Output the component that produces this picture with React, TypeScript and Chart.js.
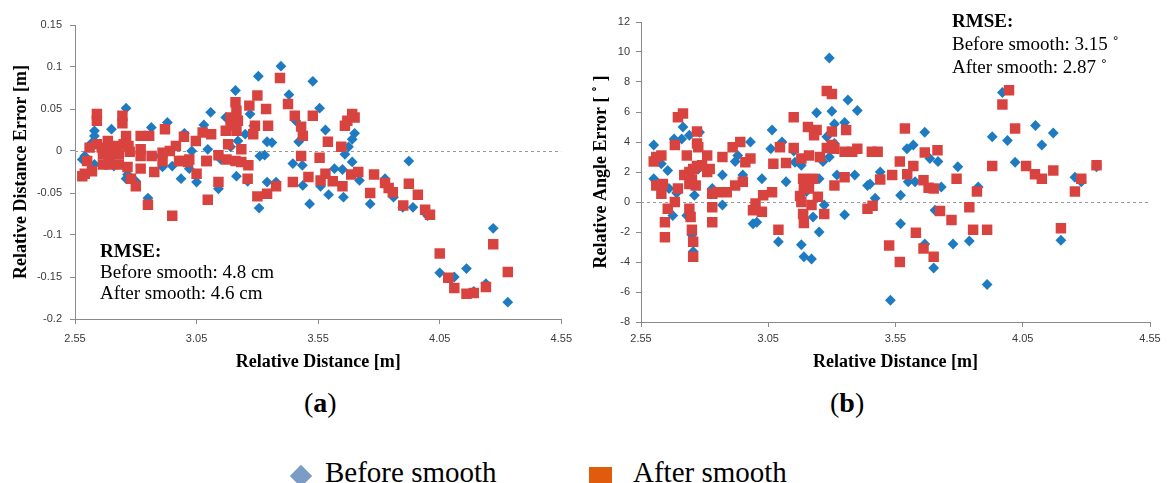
import React, { useEffect, useRef } from 'react';
import { Chart, registerables } from 'chart.js';

Chart.register(...registerables);

type Pt = [number, number];

// ---------- shared axis ----------
const distanceTicks = [2.55, 3.05, 3.55, 4.05, 4.55];

// ---------- panel (a): relative distance error [m] ----------
const distErrTicks = [-0.2, -0.15, -0.1, -0.05, 0, 0.05, 0.1, 0.15];

const distBefore: Pt[] = [
  [3.397, 0.101], [3.304, 0.089], [3.21, 0.072], [3.43, 0.067], [3.108, 0.046], [2.76, 0.051],
  [2.70, 0.026], [2.864, 0.028], [2.93, 0.034], [3.0, 0.021], [3.08, 0.031], [2.63, 0.024],
  [2.63, 0.018], [2.59, -0.006], [2.63, -0.016], [2.71, -0.018], [2.766, -0.028], [2.76, -0.033],
  [2.80, -0.036], [2.876, -0.006], [2.91, -0.019], [2.95, -0.018], [2.986, -0.033], [3.02, -0.021],
  [3.05, -0.037], [3.096, 0.002], [3.14, -0.045], [2.85, -0.056], [3.214, -0.03], [3.26, -0.036],
  [3.307, -0.068], [3.34, -0.037], [3.377, -0.037], [3.17, 0.040], [3.27, 0.044], [3.22, 0.012],
  [3.34, 0.011], [3.31, -0.006], [3.446, -0.015], [3.485, -0.017], [3.487, -0.041], [3.528, 0.083],
  [3.556, 0.051], [3.458, 0.036], [3.58, 0.025], [3.70, 0.021], [3.69, 0.014], [3.675, 0.005],
  [3.66, -0.004], [3.515, -0.063], [3.56, -0.042], [3.593, -0.052], [3.617, -0.021], [3.65, -0.022],
  [3.69, -0.013], [3.72, -0.035], [3.654, -0.055], [3.764, -0.063], [3.825, -0.033], [3.86, -0.055],
  [3.898, -0.067], [3.923, -0.012], [3.94, -0.067], [4.0, -0.077], [4.27, -0.092], [4.05, -0.145],
  [4.11, -0.15], [4.16, -0.14], [4.19, -0.167], [4.24, -0.158], [4.33, -0.18], [3.47, 0.011],
  [3.19, 0.005], [3.33, -0.005], [3.36, 0.01], [2.66, 0.0], [2.72, 0.005], [3.03, 0.0],
  [3.15, -0.01], [3.25, 0.02], [3.285, 0.03], [2.58, -0.01], [2.62, 0.01], [2.69, -0.01],
];

const distAfter: Pt[] = [
  [3.393, 0.087], [3.30, 0.066], [3.267, 0.054], [3.336, 0.05], [3.21, 0.058], [3.214, 0.048],
  [3.19, 0.04], [3.22, 0.036], [3.19, 0.03], [3.214, 0.024], [3.29, 0.03], [3.344, 0.03],
  [3.17, 0.024], [3.283, 0.02], [3.18, 0.008], [3.234, 0.002], [3.14, -0.005], [3.173, -0.01],
  [3.21, -0.012], [3.234, -0.013], [3.263, -0.017], [3.09, -0.012], [3.02, -0.01], [3.05, -0.027],
  [3.14, -0.037], [3.26, -0.033], [3.096, -0.058], [3.30, -0.054], [3.34, -0.051], [3.377, -0.042],
  [3.446, -0.037], [3.426, 0.056], [3.454, 0.042], [3.48, 0.029], [3.487, 0.018], [3.48, -0.006],
  [3.51, -0.031], [3.528, 0.042], [3.59, 0.011], [3.556, -0.008], [3.56, -0.035], [3.58, -0.027],
  [3.61, -0.036], [3.65, -0.042], [3.645, 0.005], [3.66, 0.03], [3.67, 0.036], [3.69, 0.044],
  [3.70, 0.04], [3.686, -0.028], [3.715, -0.025], [3.764, -0.05], [3.78, -0.028], [3.825, -0.038],
  [3.84, -0.044], [3.857, -0.049], [3.90, -0.065], [3.923, -0.039], [3.96, -0.052], [3.99, -0.07],
  [4.01, -0.076], [4.05, -0.122], [4.085, -0.151], [4.11, -0.163], [4.16, -0.17], [4.19, -0.169],
  [4.24, -0.162], [4.27, -0.111], [4.33, -0.144], [2.64, 0.044], [2.64, 0.036], [2.745, 0.042],
  [2.745, 0.033], [2.76, 0.018], [2.685, 0.012], [2.64, 0.008], [2.72, 0.006], [2.75, 0.008],
  [2.77, 0.006], [2.82, 0.018], [2.855, 0.018], [2.92, 0.026], [2.82, 0.002], [2.82, -0.006],
  [2.665, -0.004], [2.69, -0.006], [2.73, -0.004], [2.775, -0.001], [2.60, -0.012], [2.62, -0.024],
  [2.59, -0.027], [2.665, -0.016], [2.69, -0.016], [2.73, -0.016], [2.766, -0.019], [2.78, -0.033],
  [2.80, -0.042], [2.82, -0.021], [2.876, -0.025], [2.91, -0.002], [2.94, 0.0], [2.91, -0.012],
  [2.965, 0.006], [2.998, 0.017], [2.99, -0.012], [3.015, -0.013], [3.047, 0.012], [2.85, -0.064],
  [2.95, -0.077], [2.58, -0.03], [3.075, 0.022], [3.11, 0.02], [3.092, -0.012], [2.66, 0.004],
  [2.70, 0.0], [2.61, 0.004], [2.978, -0.012], [2.865, -0.006],
];

// ---------- panel (b): relative angle error [deg] ----------
const angleErrTicks = [-8, -6, -4, -2, 0, 2, 4, 6, 8, 10, 12];

const angleBefore: Pt[] = [
  [2.60, 3.8], [2.60, 1.55], [2.63, 2.55], [2.655, 2.1], [2.66, 0.9], [2.675, -0.9],
  [2.68, 4.2], [2.71, 4.2], [2.715, 5.0], [2.74, 4.45], [2.73, -0.9], [2.75, -2.2],
  [2.755, -3.3], [2.76, 0.45], [2.775, 2.2], [2.78, 4.65], [2.83, 0.9], [2.87, -0.2],
  [2.87, 1.8], [2.92, 2.7], [2.93, 3.1], [2.95, 1.8], [2.98, 4.0], [2.99, -1.45],
  [3.005, -1.35], [3.025, 1.55], [3.065, 4.8], [3.06, 3.55], [3.09, -2.65], [3.104, 4.0],
  [3.12, 1.35], [3.155, 2.65], [3.18, 2.45], [3.18, -2.85], [3.19, -3.65], [3.22, -3.8],
  [3.226, -1.0], [3.25, -2.0], [3.24, 5.95], [3.29, 9.6], [3.30, 6.05], [3.31, 5.2],
  [3.28, 4.35], [3.265, 2.7], [3.31, 3.9], [3.32, 1.8], [3.35, -0.85], [3.363, 6.8],
  [3.35, 5.3], [3.39, 1.8], [3.40, 6.1], [3.44, 1.1], [3.45, 1.2], [3.47, 0.25],
  [3.49, 2.0], [3.53, -6.55], [3.57, 0.45], [3.57, -1.45], [3.595, 3.55], [3.62, 3.8],
  [3.665, 4.65], [3.60, 1.35], [3.627, 1.35], [3.685, 2.9], [3.717, 2.7], [3.73, 1.0],
  [3.705, -0.55], [3.665, -2.8], [3.70, -4.4], [3.776, -2.8], [3.795, 2.35], [3.84, -2.6],
  [3.875, 1.0], [3.91, -5.5], [3.93, 4.35], [3.97, 7.3], [3.99, 4.1], [4.02, 2.65],
  [4.10, 5.1], [4.125, 3.8], [4.17, 4.6], [4.20, -2.55], [4.255, 1.65], [4.28, 1.35],
  [4.34, 2.35], [3.25, 1.55], [3.27, -0.2], [2.64, 1.0], [2.69, 0.6], [3.2, 0.7],
  [3.15, 3.4], [3.29, 3.0],
];

const angleAfter: Pt[] = [
  [2.61, 3.0], [2.60, 2.7], [2.63, 3.1], [2.61, 1.1], [2.636, 1.2], [2.63, 0.55],
  [2.644, -1.35], [2.644, -2.35], [2.655, -0.45], [2.683, 0.0], [2.683, 3.8], [2.695, 0.9],
  [2.695, 5.65], [2.715, 5.9], [2.73, 3.1], [2.72, 1.8], [2.74, 2.0], [2.75, 1.5],
  [2.74, 1.2], [2.765, 1.1], [2.77, 2.4], [2.755, 2.2], [2.74, -0.45], [2.745, -1.0],
  [2.75, -1.85], [2.755, -2.65], [2.755, -3.65], [2.77, 4.7], [2.77, 3.9], [2.775, 3.65],
  [2.79, 2.45], [2.81, 3.1], [2.82, 2.2], [2.81, 2.0], [2.83, 0.55], [2.83, -0.35],
  [2.83, -1.35], [2.85, 0.65], [2.87, 3.0], [2.887, 0.65], [2.91, 3.65], [2.92, 1.1],
  [2.94, 4.0], [2.95, 1.35], [2.96, 2.65], [2.98, 2.9], [3.0, -0.1], [2.99, -0.55],
  [3.025, -0.65], [3.03, 0.45], [3.065, 0.65], [3.07, 2.55], [3.09, -1.85], [3.096, 3.65],
  [3.12, 2.6], [3.15, 5.65], [3.15, 3.6], [3.175, 0.4], [3.18, 0.0], [3.187, -0.8],
  [3.19, -1.4], [3.18, 2.9], [3.187, 1.55], [3.206, 5.0], [3.24, 4.8], [3.23, 4.45],
  [3.21, 3.1], [3.253, 3.0], [3.22, -0.2], [3.245, 0.35], [3.27, -0.8], [3.28, 7.4],
  [3.30, 7.2], [3.30, 4.7], [3.28, 3.6], [3.30, 3.8], [3.31, 3.55], [3.31, 1.1],
  [3.35, 1.65], [3.356, 4.8], [3.35, 3.35], [3.38, 3.35], [3.40, 3.55], [3.44, -0.45],
  [3.46, -0.25], [3.457, 3.35], [3.48, 3.35], [3.49, 1.5], [3.226, 1.55], [3.19, 1.0],
  [3.21, 0.9], [3.537, 1.8], [3.567, 2.7], [3.587, 4.9], [3.596, 1.85], [3.62, 2.4],
  [3.665, 3.3], [3.66, 1.45], [3.68, 0.95], [3.70, 0.9], [3.715, 3.45], [3.725, -0.6],
  [3.77, -1.2], [3.79, 1.55], [3.84, -0.35], [3.855, -1.85], [3.87, 0.7], [3.91, -1.85],
  [3.93, 2.4], [3.97, 6.5], [3.996, 7.45], [4.02, 4.9], [4.063, 2.4], [4.098, 1.85],
  [4.125, 1.55], [4.17, 2.1], [4.20, -1.75], [4.255, 0.7], [4.28, 1.55], [4.34, 2.45],
  [3.525, -2.9], [3.567, -4.0], [3.63, -2.05], [3.66, -3.1], [3.70, -3.65],
];

// ---------- styling ----------
const BLUE = '#1F7BC1';
const RED = '#D9433F';
const LEGEND_BLUE = '#7B9CC4';
const LEGEND_ORANGE = '#E15B0C';
const AXIS = '#8A8A8A';
const TICK = '#3A3A3A';
const SERIF = '"Liberation Serif", "Times New Roman", serif';
const SANS = '"Liberation Sans", Arial, sans-serif';

const zeroLine = {
  id: 'zeroLine',
  beforeDatasetsDraw(chart: any) {
    const { ctx, chartArea, scales } = chart;
    const y = Math.round(scales.y.getPixelForValue(0)) + 0.5;
    ctx.save();
    ctx.strokeStyle = '#9A9A9A';
    ctx.lineWidth = 1;
    ctx.setLineDash([3, 3]);
    ctx.beginPath();
    ctx.moveTo(chartArea.left, y);
    ctx.lineTo(chartArea.right, y);
    ctx.stroke();
    ctx.restore();
  },
};

type PanelProps = {
  left: number;
  width: number;
  height: number;
  padding: { top: number; right: number; bottom: number; left: number };
  yWidth: number;
  xHeight: number;
  yTickPad: number;
  xTickPad: number;
  yTitle: string;
  yTicks: number[];
  before: Pt[];
  after: Pt[];
};

function Panel(p: PanelProps) {
  const ref = useRef<HTMLCanvasElement>(null);
  useEffect(() => {
    const titleFont = { family: SERIF, size: 18, weight: 'bold' as const };
    const tickFont = { family: SANS, size: 11 };
    const chart = new Chart(ref.current as HTMLCanvasElement, {
      type: 'scatter',
      data: {
        datasets: [
          {
            label: 'Before smooth',
            data: p.before.map(([x, y]) => ({ x, y })),
            pointStyle: 'rectRot',
            pointRadius: 5.4,
            backgroundColor: BLUE,
            borderWidth: 0,
            order: 1,
          },
          {
            label: 'After smooth',
            data: p.after.map(([x, y]) => ({ x, y })),
            pointStyle: 'rect',
            pointRadius: 7.4,
            backgroundColor: RED,
            borderWidth: 0,
            order: 0,
          },
        ],
      },
      options: {
        responsive: false,
        animation: false,
        events: [],
        layout: { padding: p.padding },
        plugins: { legend: { display: false }, tooltip: { enabled: false } },
        scales: {
          x: {
            type: 'linear',
            min: distanceTicks[0],
            max: distanceTicks[distanceTicks.length - 1],
            afterBuildTicks: (s: any) => {
              s.ticks = distanceTicks.map((v) => ({ value: v }));
            },
            afterFit: (s: any) => {
              s.height = p.xHeight;
            },
            grid: { display: true, drawOnChartArea: false, drawTicks: true, tickLength: 5, color: AXIS },
            border: { display: true, color: AXIS, width: 1 },
            ticks: {
              autoSkip: false,
              maxRotation: 0,
              padding: p.xTickPad,
              color: TICK,
              font: tickFont,
              callback: (v: any) => Number(v).toFixed(2),
            },
            title: {
              display: true,
              text: 'Relative Distance [m]',
              color: '#000',
              font: titleFont,
              padding: { top: 0, bottom: 7 },
            },
          },
          y: {
            type: 'linear',
            min: p.yTicks[0],
            max: p.yTicks[p.yTicks.length - 1],
            afterBuildTicks: (s: any) => {
              s.ticks = p.yTicks.map((v) => ({ value: v }));
            },
            afterFit: (s: any) => {
              s.width = p.yWidth;
            },
            grid: { display: true, drawOnChartArea: false, drawTicks: true, tickLength: 5, color: AXIS },
            border: { display: true, color: AXIS, width: 1 },
            ticks: {
              autoSkip: false,
              padding: p.yTickPad,
              color: TICK,
              font: tickFont,
              callback: (v: any) => String(parseFloat(Number(v).toFixed(2))),
            },
            title: {
              display: true,
              text: p.yTitle,
              color: '#000',
              font: titleFont,
              padding: { top: 11, bottom: 0 },
            },
          },
        },
      },
      plugins: [zeroLine],
    } as any);
    return () => chart.destroy();
  }, []);
  return (
    <canvas
      ref={ref}
      width={p.width}
      height={p.height}
      style={{ position: 'absolute', left: p.left, top: 0, width: p.width, height: p.height }}
    />
  );
}

const textStyle: React.CSSProperties = {
  position: 'absolute',
  fontFamily: SERIF,
  color: '#000',
  whiteSpace: 'nowrap',
};

export default function App() {
  return (
    <div
      style={{
        position: 'absolute',
        left: 0,
        top: 0,
        width: 1169,
        height: 483,
        overflow: 'hidden',
        background: '#fff',
      }}
    >
      <Panel
        left={0}
        width={580}
        height={380}
        padding={{ top: 25, right: 14, bottom: 0, left: 0 }}
        yWidth={75}
        xHeight={61}
        yTickPad={8}
        xTickPad={8}
        yTitle="Relative Distance Error [m]"
        yTicks={distErrTicks}
        before={distBefore}
        after={distAfter}
      />
      <Panel
        left={580}
        width={589}
        height={380}
        padding={{ top: 22, right: 19, bottom: 0, left: 0 }}
        yWidth={61}
        xHeight={58}
        yTickPad={6}
        xTickPad={5}
        yTitle="Relative Angle Error [ ˚ ]"
        yTicks={angleErrTicks}
        before={angleBefore}
        after={angleAfter}
      />

      {/* RMSE annotation, panel (a) */}
      <div style={{ ...textStyle, left: 100, top: 240, fontSize: 19, lineHeight: '21px' }}>
        <div style={{ fontWeight: 'bold' }}>RMSE:</div>
        <div>Before smooth: 4.8 cm</div>
        <div>After smooth: 4.6 cm</div>
      </div>

      {/* RMSE annotation, panel (b) */}
      <div style={{ ...textStyle, left: 952, top: 9, fontSize: 19, lineHeight: '23px' }}>
        <div style={{ fontWeight: 'bold' }}>RMSE:</div>
        <div>Before smooth: 3.15 ˚</div>
        <div>After smooth: 2.87 ˚</div>
      </div>

      {/* sub-figure labels */}
      <div style={{ ...textStyle, left: 304, top: 389, fontSize: 28, lineHeight: '28px' }}>
        (<b>a</b>)
      </div>
      <div style={{ ...textStyle, left: 830, top: 389, fontSize: 28, lineHeight: '28px' }}>
        (<b>b</b>)
      </div>

      {/* shared legend */}
      <div
        style={{
          position: 'absolute',
          left: 290,
          top: 465,
          width: 22,
          height: 22,
          transform: 'rotate(45deg) scale(0.72)',
          background: LEGEND_BLUE,
        }}
      />
      <div style={{ ...textStyle, left: 325, top: 458, fontSize: 29, lineHeight: '29px' }}>Before smooth</div>
      <div
        style={{
          position: 'absolute',
          left: 589,
          top: 467,
          width: 23,
          height: 23,
          background: LEGEND_ORANGE,
        }}
      />
      <div style={{ ...textStyle, left: 633, top: 458, fontSize: 29, lineHeight: '29px' }}>After smooth</div>
    </div>
  );
}
